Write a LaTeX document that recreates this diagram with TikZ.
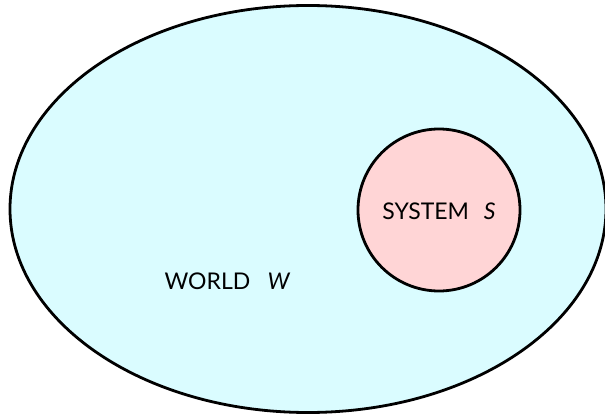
\documentclass[tikz,border=0pt]{standalone}
\usepackage{fontspec}
\setmainfont{Lato}
\usetikzlibrary{shapes.geometric}
\definecolor{worldfill}{HTML}{DAFCFF}
\definecolor{sysfill}{HTML}{FFD5D6}
\begin{document}
\begin{tikzpicture}[x=1pt,y=-1pt,
  region/.style={draw=black,line width=2.8pt},
  lbl/.style={font=\fontsize{23}{26}\selectfont,inner sep=0pt}]
\useasboundingbox (0,0) rectangle (605,417);
\node[region,fill=worldfill,ellipse,minimum width=596pt,minimum height=407pt,inner sep=0pt] (world) at (308,209) {};
\node[region,fill=sysfill,circle,minimum size=162pt,inner sep=0pt] (system) at (439,210) {};
\node[lbl] (slabel) at (439,211.5) {SYSTEM\hspace{0.65em}\textit{S}};
\node[lbl] (wlabel) at (227.5,281) {WORLD\hspace{0.75em}\textit{W}};
\end{tikzpicture}
\end{document}
